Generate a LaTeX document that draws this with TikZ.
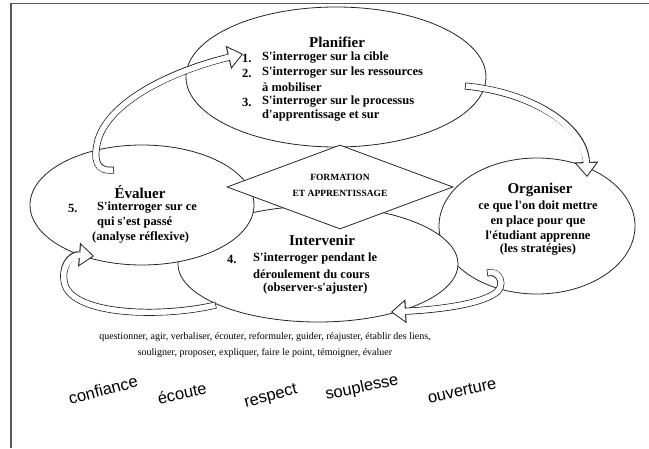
\documentclass[tikz,border=0pt]{standalone}
\usepackage{fontspec}
\setmainfont{Liberation Serif}
\newfontfamily\wordfont{Liberation Sans}
\usetikzlibrary{shapes.geometric,arrows.meta}
\newcommand{\ap}{\textquotesingle}
\newcommand{\hollowarrow}[1]{%
  \draw[line width=7pt, black!85, -{Triangle[length=15pt,width=24pt,line width=0pt]}] #1;
  \draw[line width=5.2pt, white, shorten <=0.9pt, shorten >=1.6pt, -{Triangle[length=12.3pt,width=19.7pt,line width=0pt]}] #1;
  \draw[line width=5.2pt, white, shorten <=0.9pt, shorten >=10pt] #1;
}
\begin{document}
\begin{tikzpicture}[x=1pt,y=-1pt,
  bubble/.style={draw=black!85, line width=0.8pt, fill=white, ellipse, inner sep=0pt},
  ttl/.style={font=\fontsize{15}{17}\selectfont\bfseries, inner sep=0pt},
  itm/.style={font=\fontsize{12.5}{14}\selectfont\bfseries, anchor=west, inner sep=0pt},
  ctr/.style={font=\fontsize{12.5}{14}\selectfont\bfseries, inner sep=0pt},
  dtxt/.style={font=\fontsize{9.5}{11}\selectfont\bfseries, inner sep=0pt},
  verbs/.style={font=\fontsize{10}{12}\selectfont, inner sep=0pt},
  word/.style={font=\wordfont\fontsize{16.5}{18}\selectfont, inner sep=0pt}
]
\useasboundingbox (0,0) rectangle (649,448);
\fill[white] (0,0) rectangle (649,448);
\draw[black!65, line width=1.2pt] (11,448) -- (11,3.5) -- (649,3.5);

% ellipses
\node[bubble, minimum width=300pt, minimum height=140pt] (plan) at (336,77) {};
\node[bubble, minimum width=196pt, minimum height=136pt] (org) at (537,226) {};
\node[bubble, minimum width=280pt, minimum height=116pt] (int) at (318,264) {};
\node[bubble, minimum width=224pt, minimum height=120pt] (eva) at (142,205) {};
\node[diamond, draw=black!85, line width=0.8pt, fill=white, inner sep=0pt,
      minimum width=226pt, minimum height=84pt] (dia) at (340,187) {};

% Planifier
\node[ttl] (planT) at (337,42) {Planifier};
\node[itm] (p1n) at (242,58) {1.};
\node[itm] (p1) at (262,58) {S\ap interroger sur la cible};
\node[itm] (p2n) at (242,73) {2.};
\node[itm] (p2) at (262,73) {S\ap interroger sur les ressources};
\node[itm] (p2b) at (262,87) {à mobiliser};
\node[itm] (p3n) at (242,102) {3.};
\node[itm] (p3) at (262,102) {S\ap interroger sur le processus};
\node[itm] (p3b) at (262,116) {d\ap apprentissage et sur};

% Evaluer
\node[ttl] (evaT) at (140,192) {Évaluer};
\node[itm] (e5n) at (68,208) {5.};
\node[itm] (e1) at (97,208) {S\ap interroger sur ce};
\node[itm] (e2) at (97,222) {qui s\ap est passé};
\node[itm] (e3) at (92,237) {(analyse réflexive)};

% Organiser
\node[ttl] (orgT) at (540,190) {Organiser};
\node[ctr] (o1) at (538,206) {ce que l\ap on doit mettre};
\node[ctr] (o2) at (538,221) {en place pour que};
\node[ctr] (o3) at (538,236) {l\ap étudiant apprenne};
\node[ctr] (o4) at (538,250) {(les stratégies)};

% Intervenir
\node[ttl] (intT) at (322,240) {Intervenir};
\node[itm] (i4n) at (227,259) {4.};
\node[itm] (i1) at (253,259) {S\ap interroger pendant le};
\node[itm] (i2) at (253,274) {déroulement du cours};
\node[itm] (i3) at (263,288) {(observer-s\ap ajuster)};

% diamond text
\node[dtxt] (d1) at (340,177) {FORMATION};
\node[dtxt] (d2) at (340,193) {ET APPRENTISSAGE};

% arrows
\coordinate (a1s) at (114,170);
\coordinate (a1e) at (243,54);
\coordinate (a2s) at (465,86);
\coordinate (a2e) at (587,177);
\coordinate (a3s) at (487,273);
\coordinate (a3e) at (391,312);
\coordinate (a4s) at (216,305);
\coordinate (a4e) at (94,256);
\hollowarrow{(a1s) .. controls (96,172) and (93,160) .. (98,140) .. controls (110,100) and (175,70) .. (a1e)}
\hollowarrow{(a2s) .. controls (530,92) and (585,125) .. (a2e)}
\hollowarrow{(a3s) .. controls (500,269) and (507,287) .. (494,294) .. controls (475,306) and (430,310) .. (a3e)}
\hollowarrow{(a4s) .. controls (160,318) and (75,315) .. (65,285) .. controls (60,268) and (70,254) .. (a4e)}

% bottom text
\node[verbs] (v1) at (265,337) {questionner, agir, verbaliser, écouter, reformuler, guider, réajuster, établir des liens,};
\node[verbs] (v2) at (265,353) {souligner, proposer, expliquer, faire le point, témoigner, évaluer};

\node[word, rotate=15] (w1) at (103,390) {confiance};
\node[word, rotate=12] (w2) at (182,393) {écoute};
\node[word, rotate=15] (w3) at (271,397) {respect};
\node[word, rotate=12] (w4) at (362,388) {souplesse};
\node[word, rotate=12] (w5) at (462,391) {ouverture};
\end{tikzpicture}
\end{document}
